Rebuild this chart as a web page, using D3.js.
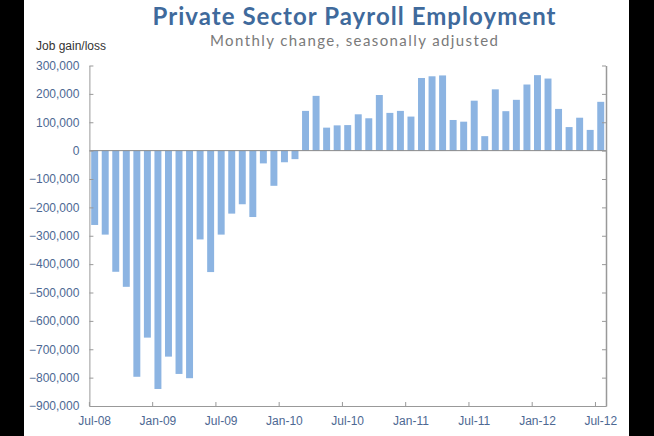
<!DOCTYPE html>
<html>
<head>
<meta charset="utf-8">
<script src="https://cdn.jsdelivr.net/npm/d3@7"></script>
<style>
  body { margin: 0; background: #fff; }
  .tick text { font-family: "Liberation Sans", Arial, sans-serif; font-size: 12px; fill: #4d6893; }
</style>
</head>
<body>
<div id="chart"></div>
<script>
// months shown, Jul-08 .. Jul-12
var months = ["Jul-08","Aug-08","Sep-08","Oct-08","Nov-08","Dec-08",
  "Jan-09","Feb-09","Mar-09","Apr-09","May-09","Jun-09",
  "Jul-09","Aug-09","Sep-09","Oct-09","Nov-09","Dec-09",
  "Jan-10","Feb-10","Mar-10","Apr-10","May-10","Jun-10",
  "Jul-10","Aug-10","Sep-10","Oct-10","Nov-10","Dec-10",
  "Jan-11","Feb-11","Mar-11","Apr-11","May-11","Jun-11",
  "Jul-11","Aug-11","Sep-11","Oct-11","Nov-11","Dec-11",
  "Jan-12","Feb-12","Mar-12","Apr-12","May-12","Jun-12","Jul-12"];

// monthly private payroll change (jobs)
var jobs = [-262000,-296000,-427000,-480000,-797000,-659000,
  -840000,-726000,-787000,-802000,-313000,-428000,
  -296000,-222000,-189000,-234000,-45000,-124000,
  -41000,-30000,140000,193000,81000,89000,
  90000,128000,114000,196000,133000,140000,
  120000,256000,262000,265000,108000,102000,
  176000,51000,216000,139000,179000,233000,
  266000,254000,147000,83000,116000,73000,172000];

var xTicks = ["Jul-08","Jan-09","Jul-09","Jan-10","Jul-10","Jan-11","Jul-11","Jan-12","Jul-12"];
var yTicks = [300000,200000,100000,0,-100000,-200000,-300000,-400000,-500000,-600000,-700000,-800000,-900000];

var title = "Private Sector Payroll Employment";
var subtitle = "Monthly change, seasonally adjusted";
var y_label = "Job gain/loss";

var W = 654, H = 436;
var margin = {left: 89.4, right: 606, top: 65.5, bottom: 406};

var svg = d3.select("#chart")
  .append("svg")
    .attr("width", W)
    .attr("height", H);

svg.append("rect").attr("width", W).attr("height", H).attr("fill", "#fff");
// black side bands of the screenshot
svg.append("rect").attr("x", 0).attr("y", 0).attr("width", 24).attr("height", H).attr("fill", "#000");
svg.append("rect").attr("x", 629).attr("y", 0).attr("width", W - 629).attr("height", H).attr("fill", "#000");

// titles
svg.append("text")
  .attr("x", 354).attr("y", 25)
  .attr("text-anchor", "middle")
  .attr("textLength", 403)
  .style("font-family", "Lato, 'Open Sans', sans-serif")
  .style("font-weight", "bold")
  .style("font-size", "24px")
  .style("fill", "#3f6a9c")
  .text(title);

svg.append("text")
  .attr("x", 354).attr("y", 46)
  .attr("text-anchor", "middle")
  .attr("textLength", 288)
  .style("font-family", "Lato, 'Open Sans', sans-serif")
  .style("font-size", "15px")
  .style("fill", "#7a7a7a")
  .text(subtitle);

svg.append("text")
  .attr("x", 36).attr("y", 50)
  .style("font-family", "'Liberation Sans', Arial, sans-serif")
  .style("font-size", "12px")
  .style("fill", "#333")
  .text(y_label);

// scales
var x = d3.scaleBand()
  .domain(months)
  .range([margin.left, margin.right])
  .paddingInner(0.34)
  .paddingOuter(0.17);

var y = d3.scaleLinear()
  .domain([-900000, 300000])
  .range([margin.bottom, margin.top]);

// bars
svg.selectAll(".bar")
  .data(months)
  .enter()
  .append("rect")
    .attr("class", "bar")
    .attr("x", d => x(d))
    .attr("width", x.bandwidth())
    .attr("y", (d, i) => y(Math.max(0, jobs[i])))
    .attr("height", (d, i) => Math.abs(y(jobs[i]) - y(0)))
    .attr("fill", "#8cb4e2");

// zero line
svg.append("line")
  .attr("x1", margin.left).attr("x2", margin.right)
  .attr("y1", y(0)).attr("y2", y(0))
  .attr("stroke", "#8a8a8a")
  .attr("stroke-width", 1);

// left axis, ticks inside
var yAxisG = svg.append("g")
  .attr("transform", `translate(${margin.left},0)`)
  .call(d3.axisLeft(y)
    .tickValues(yTicks)
    .tickSizeInner(-4)
    .tickSizeOuter(0)
    .tickPadding(10)
    .tickFormat(d3.format(",")));

// right frame line with inward ticks
var rAxisG = svg.append("g")
  .attr("transform", `translate(${margin.right},0)`)
  .call(d3.axisRight(y)
    .tickValues(yTicks)
    .tickSizeInner(-4)
    .tickSizeOuter(0)
    .tickFormat(""));

// bottom axis, labels on band, ticks at band start
var xAxisG = svg.append("g")
  .attr("transform", `translate(0,${margin.bottom})`)
  .call(d3.axisBottom(x)
    .tickValues(xTicks)
    .tickSizeInner(-4)
    .tickSizeOuter(0)
    .tickPadding(10));

xAxisG.selectAll(".tick line")
  .attr("x1", -x.step() / 2)
  .attr("x2", -x.step() / 2);

[yAxisG, rAxisG, xAxisG].forEach(g => {
  g.select(".domain").attr("stroke", "#999");
  g.selectAll(".tick line").attr("stroke", "#999");
});
rAxisG.select(".domain").attr("stroke-width", 1.5);
</script>
</body>
</html>
